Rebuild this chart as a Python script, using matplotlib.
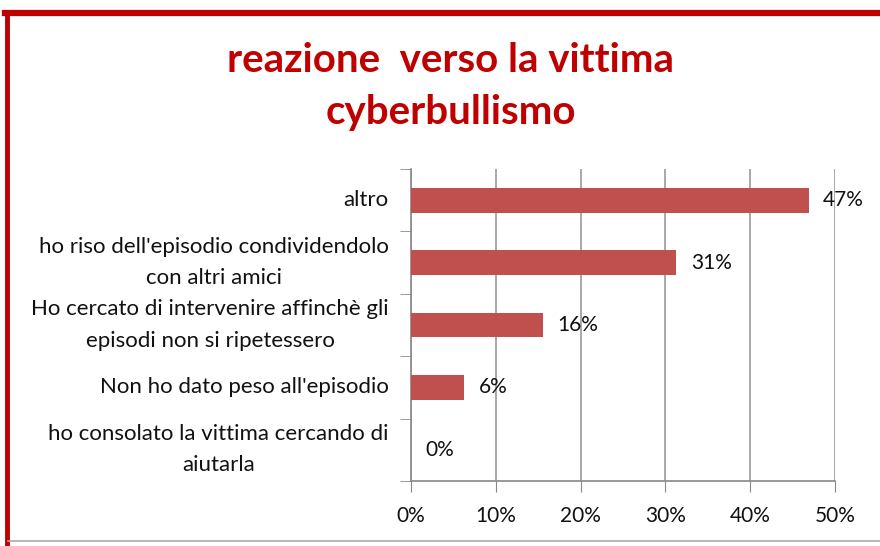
import matplotlib.pyplot as plt
from matplotlib.lines import Line2D
from matplotlib.ticker import MultipleLocator, PercentFormatter

categories = [
    "altro",
    "ho riso dell'episodio condividendolo\ncon altri amici",
    "Ho cercato di intervenire affinchè gli\nepisodi non si ripetessero",
    "Non ho dato peso all'episodio",
    "ho consolato la vittima cercando di\naiutarla",
]
values = [46.9, 31.3, 15.6, 6.3, 0.0]
labels = ["47%", "31%", "16%", "6%", "0%"]

plt.rcParams['font.family'] = ['Lato', 'DejaVu Sans']

fig = plt.figure(figsize=(8.8, 5.46), dpi=100)
ax = fig.add_axes([411 / 880, 1 - 481 / 546, 424 / 880, 312 / 546])

y = list(range(len(categories)))
ax.barh(y, values, height=0.4, color='#C0504D', zorder=3)
for yi, v, lab in zip(y, values, labels):
    ax.text(v + 1.7, yi, lab, va='center', ha='left', fontsize=15, color='#111111')

ax.set_xlim(0, 50)
ax.set_ylim(len(categories) - 0.5, -0.5)
ax.xaxis.set_major_locator(MultipleLocator(10))
ax.xaxis.set_major_formatter(PercentFormatter(decimals=0))
ax.set_yticks(y)
ax.set_yticklabels(categories, fontsize=16, linespacing=1.7, va='center')
for t in ax.get_yticklabels():
    t.set_multialignment('center')
ax.tick_params(axis='y', pad=16, length=0, labelcolor='#111111')
ax.set_yticks([i - 0.5 for i in range(len(categories) + 1)], minor=True)
ax.tick_params(axis='y', which='minor', length=8, color='#888888')
ax.tick_params(axis='x', labelsize=15, length=8, color='#888888', pad=10, labelcolor='#111111')
ax.grid(axis='x', color='#999999', linewidth=1.2, zorder=0)
for s in ['top', 'right']:
    ax.spines[s].set_visible(False)
for s in ['left', 'bottom']:
    ax.spines[s].set_color('#888888')
    ax.spines[s].set_linewidth(1.2)

fig.text(0.512, 1 - 60 / 546, "reazione  verso la vittima", ha='center', va='center',
         fontsize=29, fontweight='bold', color='#C00000')
fig.text(0.512, 1 - 113 / 546, "cyberbullismo", ha='center', va='center',
         fontsize=29, fontweight='bold', color='#C00000')

# red frame (left and top) and grey line at the bottom
fig.add_artist(Line2D([6.5 / 880, 6.5 / 880], [0, 1 - 13 / 546], color='#C00000', linewidth=3.5))
fig.add_artist(Line2D([5 / 880, 1], [1 - 13 / 546, 1 - 13 / 546], color='#C00000', linewidth=4.5))
fig.add_artist(Line2D([8 / 880, 1], [1 - 541 / 546, 1 - 541 / 546], color='#aaaaaa', linewidth=1.2))

fig.savefig('out.png', dpi=100)
